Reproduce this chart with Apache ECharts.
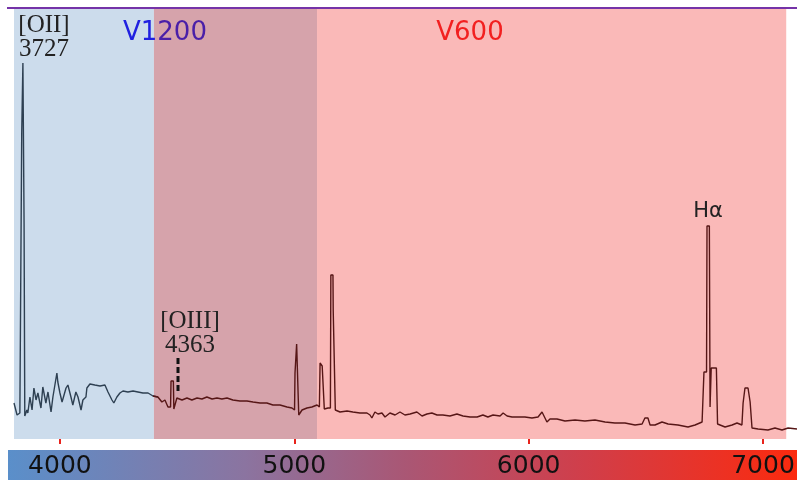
<!DOCTYPE html>
<html>
<head>
<meta charset="utf-8">
<script src="https://cdn.jsdelivr.net/npm/echarts@6/dist/echarts.min.js"></script>
<style>html,body{margin:0;padding:0;background:#fff;}#c{width:797px;height:481px;}</style>
</head>
<body>
<div id="c"></div>
<script>
// Wavelength (Angstrom) and relative flux
const wavelength = [3804,3817,3829,3836,3837,3840,3842,3845,3847,3849,3850,3859,3863,3872,3881,3889,3898,3906,3919,3927,3940,3949,3962,3970,3987,3991,4000,4009,4017,4026,4034,4047,4055,4068,4077,4090,4098,4111,4115,4128,4149,4171,4192,4205,4222,4230,4243,4256,4269,4290,4312,4333,4354,4376,4397,4418,4435,4448,4461,4472,4474,4484,4486,4491,4499,4521,4542,4563,4585,4606,4627,4649,4670,4691,4713,4738,4768,4798,4824,4854,4883,4909,4939,4969,4990,5001,5003,5009,5010,5018,5019,5033,5054,5075,5097,5107,5110,5118,5119,5127,5128,5144,5154,5156,5165,5166,5174,5175,5195,5225,5250,5280,5310,5323,5331,5344,5357,5374,5387,5408,5430,5451,5472,5494,5523,5545,5566,5587,5609,5634,5664,5694,5720,5750,5780,5805,5826,5848,5878,5891,5908,5929,5955,5984,6014,6040,6057,6065,6078,6091,6121,6155,6198,6240,6283,6326,6368,6411,6454,6484,6496,6509,6518,6539,6569,6595,6637,6680,6710,6740,6746,6748,6759,6761,6771,6774,6778,6779,6801,6806,6838,6868,6889,6910,6915,6923,6936,6945,6953,6979,7021,7051,7081,7107,7145];
const flux = [36,24,26,25,307,307,376,376,214,214,23,29,26,42,29,51,39,46,31,52,36,47,27,42,66,57,46,37,36,51,54,42,34,47,42,29,39,42,51,55,54,53,54,47,39,36,42,46,48,47,48,47,46,46,43,42,37,39,32,32,58,58,30,32,41,39,41,39,41,40,42,40,41,40,41,39,38,38,37,36,36,34,34,32,31,29,66,66,95,95,24,29,31,32,34,32,76,76,73,73,30,31,31,164,164,129,129,29,27,28,27,26,26,24,21,27,25,26,22,26,24,27,24,25,27,23,25,26,24,24,23,25,23,22,22,24,22,24,23,26,23,22,22,22,21,22,27,26,17,20,20,18,19,18,19,17,16,16,14,15,21,21,14,14,17,15,14,12,14,17,17,67,67,213,213,32,32,71,71,15,12,14,16,14,36,51,51,37,11,10,9,11,9,11,10];
// Grating regions
const regionEdges = [3804, 4401, 5097, 7099];
const regionNames = ['V1200', '', 'V600'];
const tickValues = [4000, 5000, 6000, 7000];
const lineLabels = [
  { text: '[OII]\n3727', x: 44, y: 37 },
  { text: '[OIII]\n4363', x: 190, y: 333 }
];

const all = wavelength.map((w, i) => [w, flux[i]]);
const blueData = all.filter(d => d[0] <= 4418);
const redData = all.filter(d => d[0] >= 4397);

const chart = echarts.init(document.getElementById('c'));
chart.setOption({
  animation: false,
  grid: { left: 14, right: 0, top: 9, bottom: 42, outerBoundsMode: 'none', containLabel: false },
  xAxis: {
    type: 'value', min: 3804, max: 7145, offset: 6,
    axisLine: { show: false },
    splitLine: { show: false },
    axisTick: { show: true, customValues: tickValues, length: 5, lineStyle: { color: '#e8231c', width: 2 } },
    axisLabel: { customValues: tickValues, margin: 9, fontSize: 25, fontFamily: 'DejaVu Sans', color: '#111',
      formatter: v => String(v) }
  },
  yAxis: { type: 'value', min: 0, max: 430, show: false },
  series: [{
    type: 'line', data: blueData, showSymbol: false, lineStyle: { width: 1.4, color: '#2e4052' }, z: 3,
    markArea: {
      silent: true,
      data: [
        [{ xAxis: regionEdges[0], itemStyle: { color: '#ccdcec' } }, { xAxis: regionEdges[1] }],
        [{ xAxis: regionEdges[1], itemStyle: { color: '#d6a3ab' } }, { xAxis: regionEdges[2] }],
        [{ xAxis: regionEdges[2], itemStyle: { color: '#fab9b8' } }, { xAxis: regionEdges[3] }]
      ]
    }
  }, {
    type: 'line', data: redData, showSymbol: false, lineStyle: { width: 1.4, color: '#561616' }, z: 3
  }],
  graphic: [
    { type: 'rect', z: -1, shape: { x: 8, y: 450, width: 789, height: 30 },
      style: { fill: new echarts.graphic.LinearGradient(0, 0, 1, 0, [
        { offset: 0, color: '#5a8fca' }, { offset: 0.3, color: '#8b74a0' },
        { offset: 0.5, color: '#a95775' }, { offset: 0.72, color: '#cf3f4c' },
        { offset: 1, color: '#fb2a0e' }]) } },
    { type: 'line', z: 100, shape: { x1: 7, y1: 8, x2: 797, y2: 8 }, style: { stroke: '#7533a8', lineWidth: 2 } },
    { type: 'text', z: 100, x: 123, y: 33, style: { text: '{a|V1}{b|200}', verticalAlign: 'middle',
      rich: { a: { fontSize: 26, fontFamily: 'DejaVu Sans', fill: '#2020e0' }, b: { fontSize: 26, fontFamily: 'DejaVu Sans', fill: '#4a1fa8' } } } },
    { type: 'text', z: 100, x: 470, y: 33, style: { text: regionNames[2], fontSize: 26, fontFamily: 'DejaVu Sans', fill: '#f22020', align: 'center', verticalAlign: 'middle' } },
    { type: 'text', z: 100, x: lineLabels[0].x, y: lineLabels[0].y, style: { text: lineLabels[0].text, fontSize: 25, lineHeight: 24, fontFamily: 'Liberation Serif', fill: '#222', align: 'center', verticalAlign: 'middle' } },
    { type: 'text', z: 100, x: lineLabels[1].x, y: lineLabels[1].y, style: { text: lineLabels[1].text, fontSize: 25, lineHeight: 24, fontFamily: 'Liberation Serif', fill: '#222', align: 'center', verticalAlign: 'middle' } },
    { type: 'text', z: 100, x: 708, y: 212, style: { text: 'Hα', fontSize: 21, fontFamily: 'DejaVu Sans', fill: '#222', align: 'center', verticalAlign: 'middle' } },
    { type: 'line', z: 100, shape: { x1: 178, y1: 358, x2: 178, y2: 391 }, style: { stroke: '#111', lineWidth: 3, lineDash: [6, 3] } }
  ]
});
</script>
</body>
</html>
